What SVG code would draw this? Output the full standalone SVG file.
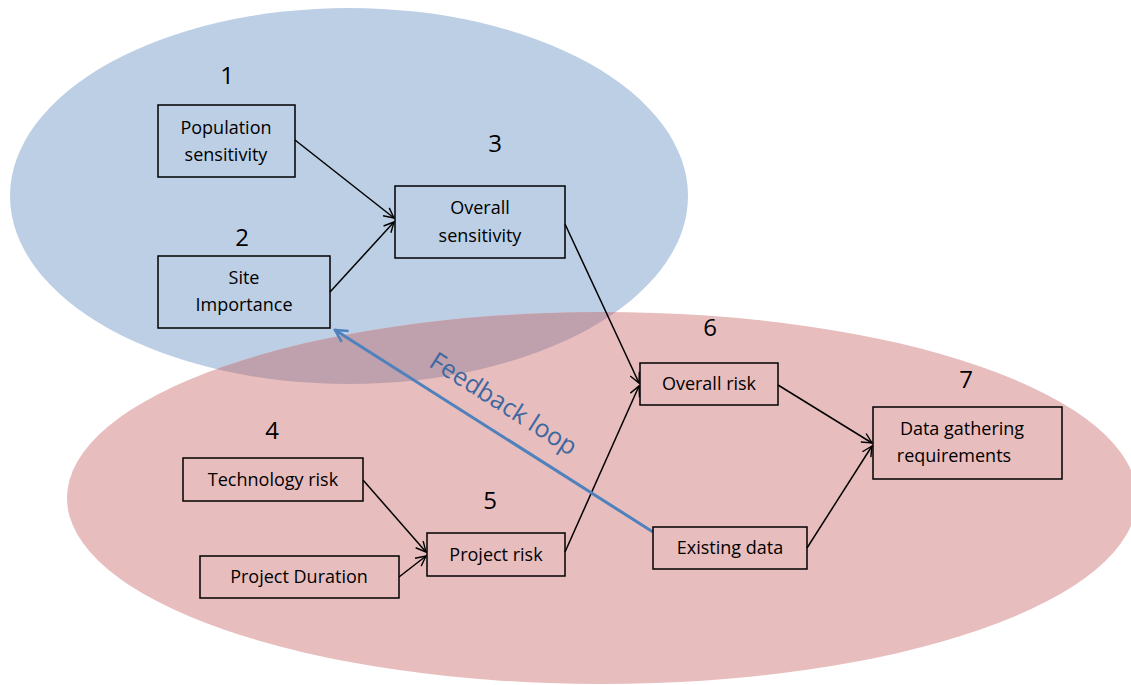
<svg xmlns="http://www.w3.org/2000/svg" width="1131" height="685" viewBox="0 0 1131 685">
<style>
.box{fill:none;stroke:#000;stroke-width:1.5}
.lbl{font-family:"Open Sans","Liberation Sans",sans-serif;font-size:18px;fill:#000;text-anchor:middle}
.num{font-family:"Open Sans","Liberation Sans",sans-serif;font-size:24px;fill:#000;text-anchor:middle}
.con{stroke:#000;stroke-width:1.5;fill:none;marker-end:url(#ah)}
</style>
<defs>
<marker id="ah" viewBox="0 0 12 12" refX="11" refY="6" markerWidth="12" markerHeight="12" markerUnits="userSpaceOnUse" orient="auto">
<polyline points="1,1 11,6 1,11" fill="none" stroke="#000" stroke-width="1.4"/>
</marker>
<marker id="bh" viewBox="0 0 16 16" refX="14" refY="8" markerWidth="16" markerHeight="16" markerUnits="userSpaceOnUse" orient="auto">
<polyline points="2,1.5 14,8 2,14.5" fill="none" stroke="#4f81bd" stroke-width="2.6"/>
</marker>
<clipPath id="pinkclip"><ellipse cx="602" cy="498" rx="535" ry="186"/></clipPath>
</defs>
<g id="regions">
<ellipse cx="349" cy="196" rx="339" ry="188" fill="#bccfe5"/>
<ellipse cx="602" cy="498" rx="535" ry="186" fill="#e8bdbd"/>
<ellipse cx="349" cy="196" rx="339" ry="188" fill="#bfa0ad" clip-path="url(#pinkclip)"/>
</g>
<g id="connectors">
<line class="con" x1="295" y1="140" x2="394" y2="218"/>
<line class="con" x1="330" y1="292" x2="394" y2="222"/>
<line class="con" x1="565" y1="224" x2="639" y2="383"/>
<line class="con" x1="565" y1="552" x2="639" y2="386"/>
<line class="con" x1="363" y1="480" x2="426" y2="552"/>
<line class="con" x1="399" y1="577" x2="426" y2="556"/>
<line class="con" x1="778" y1="385" x2="872" y2="443"/>
<line class="con" x1="807" y1="548" x2="872" y2="446"/>
<line x1="653" y1="532" x2="335" y2="330" stroke="#4f81bd" stroke-width="3" marker-end="url(#bh)"/>
<text x="499" y="411" transform="rotate(32.5 499 411)" font-family="'Open Sans','Liberation Sans',sans-serif" font-size="25" fill="#3d68a0" text-anchor="middle">Feedback loop</text>
</g>
<g id="n1"><text class="num" x="227" y="84">1</text><rect class="box" x="158" y="105" width="137" height="72"/><text class="lbl" x="226" y="134">Population</text><text class="lbl" x="226" y="161">sensitivity</text></g>
<g id="n2"><text class="num" x="242" y="246">2</text><rect class="box" x="158" y="256" width="172" height="72"/><text class="lbl" x="244" y="284">Site</text><text class="lbl" x="244" y="311">Importance</text></g>
<g id="n3"><text class="num" x="495" y="152">3</text><rect class="box" x="395" y="186" width="170" height="72"/><text class="lbl" x="480" y="214">Overall</text><text class="lbl" x="480" y="242">sensitivity</text></g>
<g id="n4"><text class="num" x="272" y="439">4</text><rect class="box" x="183" y="458" width="180" height="43"/><text class="lbl" x="273" y="486">Technology risk</text></g>
<g id="n4b"><rect class="box" x="200" y="556" width="199" height="42"/><text class="lbl" x="299" y="583">Project Duration</text></g>
<g id="n5"><text class="num" x="490" y="509">5</text><rect class="box" x="427" y="533" width="138" height="43"/><text class="lbl" x="496" y="561">Project risk</text></g>
<g id="n6"><text class="num" x="710" y="336">6</text><rect class="box" x="640" y="363" width="138" height="42"/><text class="lbl" x="709" y="390">Overall risk</text></g>
<g id="n7"><text class="num" x="966" y="388">7</text><rect class="box" x="873" y="407" width="189" height="72"/><text class="lbl" x="962" y="435">Data gathering</text><text class="lbl" x="954" y="462">requirements</text></g>
<g id="n8"><rect class="box" x="653" y="527" width="154" height="42"/><text class="lbl" x="730" y="554">Existing data</text></g>
</svg>
